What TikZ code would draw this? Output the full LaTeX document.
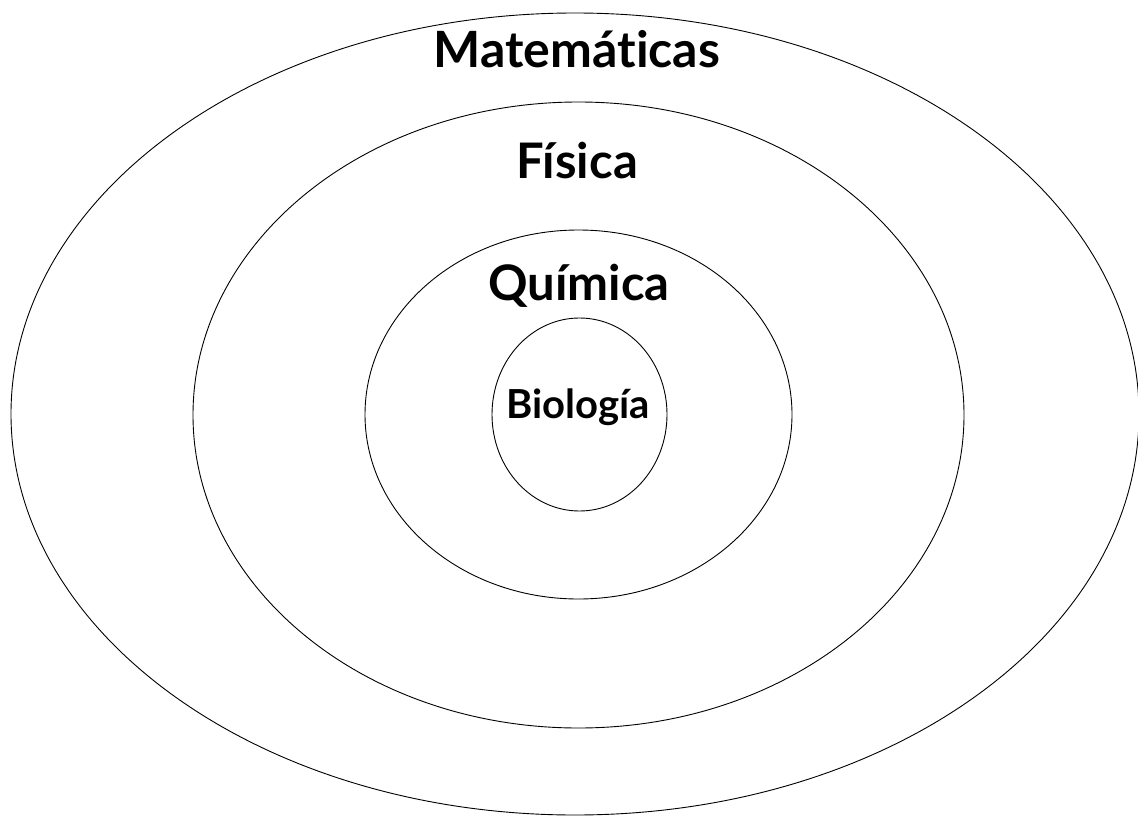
\documentclass[tikz,border=0pt]{standalone}
\usepackage{fontspec}
\setmainfont{Lato}[UprightFont=* Bold,Ligatures={NoCommon,NoRare}]
\begin{document}
\begin{tikzpicture}[x=1pt,y=-1pt,
  ring/.style={draw=black,line width=0.9pt},
  lbl/.style={anchor=base,inner sep=0pt,text=black}]
\useasboundingbox (0,0) rectangle (1138,816);
\fill[white] (0,0) rectangle (1138,816);
\draw[ring] (575,414) ellipse [x radius=564, y radius=401];
\draw[ring] (578.5,415) ellipse [x radius=385.5, y radius=313];
\draw[ring] (578.5,414.5) ellipse [x radius=213.5, y radius=184.5];
\draw[ring] (579.5,414.5) ellipse [x radius=87.5, y radius=96.5];
\node[lbl,font=\fontsize{50}{60}\selectfont] (mat) at (577,68) {Matemáticas};
\node[lbl,font=\fontsize{49}{58}\selectfont] (fis) at (577,178) {Física};
\node[lbl,font=\fontsize{49}{58}\selectfont] (qui) at (579,300) {Química};
\node[lbl,font=\fontsize{40}{48}\selectfont] (bio) at (578,418) {Biología};
\end{tikzpicture}
\end{document}
